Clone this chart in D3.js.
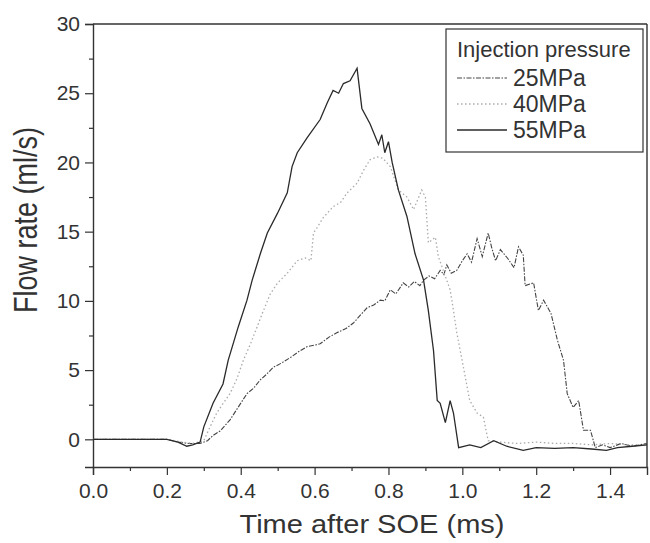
<!DOCTYPE html>
<html>
<head>
<meta charset="utf-8">
<script src="https://cdn.jsdelivr.net/npm/d3@7"></script>
<style>
  body { margin: 0; background: #fff; }
  text { font-family: "Liberation Sans", Arial, sans-serif; fill: #333; }
</style>
</head>
<body>
<div id="chart"></div>
<script>
// series data (time in ms, flow rate in ml/s)
const t25 = [0, 0.1, 0.2, 0.23, 0.26, 0.29, 0.31, 0.326, 0.344, 0.371, 0.395, 0.417, 0.435, 0.453, 0.47, 0.488, 0.51, 0.534, 0.555, 0.58, 0.6, 0.615, 0.64, 0.66, 0.685, 0.705, 0.725, 0.742, 0.76, 0.778, 0.79, 0.805, 0.82, 0.84, 0.855, 0.87, 0.885, 0.895, 0.91, 0.925, 0.94, 0.95, 0.958, 0.97, 0.985, 1.0, 1.013, 1.025, 1.04, 1.054, 1.07, 1.08, 1.09, 1.103, 1.122, 1.14, 1.152, 1.165, 1.17, 1.193, 1.206, 1.22, 1.24, 1.257, 1.274, 1.284, 1.3, 1.315, 1.328, 1.347, 1.36, 1.38, 1.4, 1.43, 1.46, 1.5];
const v25 = [0, 0, 0, -0.2, -0.3, -0.3, -0.1, 0.3, 0.6, 1.4, 2.4, 3.3, 3.7, 4.3, 4.7, 5.2, 5.5, 5.9, 6.3, 6.7, 6.8, 6.9, 7.4, 7.7, 8.0, 8.4, 9.0, 9.5, 9.7, 10.05, 10.0, 10.8, 10.5, 11.3, 11.0, 11.4, 11.1, 11.5, 11.8, 11.6, 12.2, 11.9, 12.6, 12.0, 12.2, 12.9, 13.4, 12.8, 14.5, 13.2, 14.9, 13.8, 12.9, 13.7, 13.1, 12.4, 13.9, 13.3, 11.1, 11.3, 9.3, 10.05, 9.1, 7.2, 5.7, 3.3, 2.3, 2.8, 0.65, 0.65, -0.6, -0.4, -0.6, -0.3, -0.5, -0.3];

const t40 = [0, 0.1, 0.2, 0.24, 0.27, 0.3, 0.317, 0.335, 0.35, 0.371, 0.39, 0.407, 0.425, 0.444, 0.46, 0.48, 0.5, 0.526, 0.553, 0.575, 0.59, 0.597, 0.607, 0.623, 0.65, 0.67, 0.688, 0.715, 0.732, 0.75, 0.77, 0.785, 0.805, 0.827, 0.85, 0.868, 0.89, 0.9, 0.908, 0.927, 0.935, 0.967, 0.976, 0.985, 1.003, 1.02, 1.04, 1.057, 1.07, 1.1, 1.15, 1.2, 1.25, 1.3, 1.35, 1.4, 1.45, 1.5];
const v40 = [0, 0, 0, -0.2, -0.3, -0.1, 0.9, 1.9, 2.5, 3.3, 4.4, 5.7, 6.8, 8.1, 9.2, 10.5, 11.3, 12.0, 12.9, 13.1, 12.9, 14.9, 15.3, 16.0, 16.8, 17.1, 17.8, 18.5, 19.4, 20.2, 20.4, 20.3, 19.7, 18.0, 17.5, 16.6, 18.0, 17.5, 14.2, 14.6, 13.2, 10.8, 9.3, 7.7, 5.2, 2.8, 1.9, 1.6, -0.1, -0.2, -0.3, -0.2, -0.3, -0.3, -0.4, -0.3, -0.4, -0.4];

const t55 = [0, 0.1, 0.2, 0.23, 0.254, 0.27, 0.29, 0.3, 0.325, 0.352, 0.366, 0.393, 0.417, 0.431, 0.453, 0.472, 0.499, 0.526, 0.539, 0.553, 0.58, 0.615, 0.634, 0.65, 0.665, 0.678, 0.696, 0.715, 0.728, 0.75, 0.773, 0.782, 0.79, 0.8, 0.81, 0.827, 0.85, 0.872, 0.895, 0.908, 0.922, 0.932, 0.94, 0.954, 0.967, 0.976, 0.99, 1.02, 1.05, 1.085, 1.12, 1.165, 1.2, 1.25, 1.3, 1.35, 1.39, 1.42, 1.46, 1.5];
const v55 = [0, 0, 0, -0.2, -0.5, -0.4, -0.2, 0.9, 2.6, 4.0, 5.7, 8.1, 10.05, 11.5, 13.4, 14.9, 16.3, 17.8, 19.7, 20.7, 21.8, 23.1, 24.3, 25.2, 25.0, 25.7, 25.9, 26.8, 23.9, 22.8, 21.3, 22.0, 20.7, 21.5, 20.0, 18.0, 16.1, 13.4, 11.5, 9.3, 6.4, 2.8, 2.6, 1.2, 2.8, 1.9, -0.6, -0.4, -0.6, -0.1, -0.5, -0.8, -0.6, -0.65, -0.6, -0.7, -0.8, -0.6, -0.5, -0.4];

const seriesNames = ["25MPa", "40MPa", "55MPa"];
const xTicks = [0, 0.2, 0.4, 0.6, 0.8, 1.0, 1.2, 1.4];
const yTicks = [0, 5, 10, 15, 20, 25, 30];

const W = 650, H = 543;
const margin = { top: 24, right: 3, bottom: 76, left: 93 };
const width = W - margin.left - margin.right;
const height = H - margin.top - margin.bottom;

const svg = d3.select("#chart").append("svg")
    .attr("width", W)
    .attr("height", H);

const g = svg.append("g")
    .attr("transform", `translate(${margin.left},${margin.top})`);

const x = d3.scaleLinear().domain([0, 1.5]).range([0, width]);
const y = d3.scaleLinear().domain([-2, 30]).range([height, 0]);

// minor ticks
g.append("g")
    .attr("transform", `translate(0,${height})`)
    .call(d3.axisBottom(x).tickValues(d3.range(0.1, 1.5, 0.2)).tickSize(4).tickFormat(""))
    .call(a => a.select(".domain").remove());
g.append("g")
    .call(d3.axisLeft(y).tickValues(d3.range(2.5, 30, 5)).tickSize(4).tickFormat(""))
    .call(a => a.select(".domain").remove());

// main axes
const xAxis = g.append("g")
    .attr("transform", `translate(0,${height})`)
    .call(d3.axisBottom(x).tickValues(xTicks).tickSize(8).tickPadding(8).tickFormat(d3.format(".1f")));
const yAxis = g.append("g")
    .call(d3.axisLeft(y).tickValues(yTicks).tickSize(8).tickPadding(5).tickFormat(d3.format("d")));

[xAxis, yAxis].forEach(a => {
  a.selectAll("text").style("font-size", "21px").attr("fill", "#333");
});
g.selectAll(".tick line").attr("stroke", "#333").attr("stroke-width", 1.2);
g.selectAll(".domain").attr("stroke", "#333").attr("stroke-width", 1.4);

// frame top and right
g.append("line").attr("x1", 0).attr("x2", width).attr("y1", 0).attr("y2", 0)
    .attr("stroke", "#333").attr("stroke-width", 1.4);
g.append("line").attr("x1", width).attr("x2", width).attr("y1", 0).attr("y2", height)
    .attr("stroke", "#333").attr("stroke-width", 1.4);

// axis titles
svg.append("text")
    .attr("x", 372)
    .attr("y", 533)
    .attr("text-anchor", "middle")
    .attr("textLength", 265)
    .attr("lengthAdjust", "spacingAndGlyphs")
    .style("font-size", "26px")
    .text("Time after SOE (ms)");
svg.append("text")
    .attr("transform", "translate(37,220) scale(1.2,1) rotate(-90)")
    .attr("text-anchor", "middle")
    .style("font-size", "27px")
    .text("Flow rate (ml/s)");

// lines
const styles = [
  { color: "#444", dash: "5,1.5,1.5,1.5", w: 1.1 },
  { color: "#aaa", dash: "1.5,2.5", w: 1.3 },
  { color: "#2a2a2a", dash: null, w: 1.3 }
];
const datasets = [
  t25.map((t, i) => [t, v25[i]]),
  t40.map((t, i) => [t, v40[i]]),
  t55.map((t, i) => [t, v55[i]])
];
const line = d3.line().x(d => x(d[0])).y(d => y(d[1]));

datasets.forEach((d, i) => {
  g.append("path")
      .datum(d)
      .attr("fill", "none")
      .attr("stroke", styles[i].color)
      .attr("stroke-width", styles[i].w)
      .attr("stroke-dasharray", styles[i].dash)
      .attr("d", line);
});

// legend
const leg = svg.append("g").attr("transform", "translate(446,29)");
leg.append("rect")
    .attr("width", 197).attr("height", 123)
    .attr("fill", "#fff").attr("stroke", "#333").attr("stroke-width", 1.2);
leg.append("text")
    .attr("x", 11).attr("y", 28)
    .style("font-size", "22px")
    .text("Injection pressure");
seriesNames.forEach((name, i) => {
  const yy = 49 + i * 26;
  leg.append("line")
      .attr("x1", 11).attr("x2", 61).attr("y1", yy).attr("y2", yy)
      .attr("stroke", styles[i].color)
      .attr("stroke-width", styles[i].w)
      .attr("stroke-dasharray", styles[i].dash);
  leg.append("text")
      .attr("x", 67).attr("y", yy + 8)
      .style("font-size", "23px")
      .text(name);
});
</script>
</body>
</html>
